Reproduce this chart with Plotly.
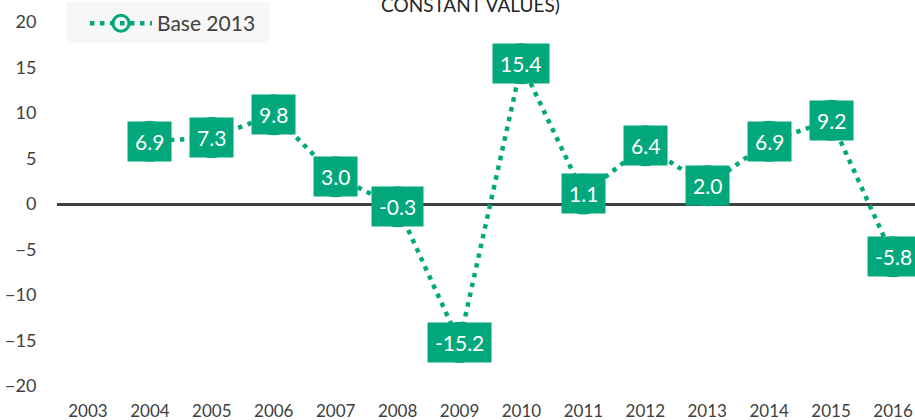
import plotly.graph_objects as go

years = ["2003", "2004", "2005", "2006", "2007", "2008", "2009", "2010",
         "2011", "2012", "2013", "2014", "2015", "2016"]
values = [None, 6.9, 7.3, 9.8, 3.0, -0.3, -15.2, 15.4, 1.1, 6.4, 2.0, 6.9, 9.2, -5.8]
series_name = "Base 2013"
title_text = "CONSTANT VALUES)"

GREEN = "#02A87B"
DARK = "#404040"
FONT = "Lato"

fig = go.Figure()
fig.add_trace(go.Scatter(
    x=years, y=values, mode="lines+markers", name=series_name,
    line=dict(color=GREEN, width=4.5, dash="4.5px,5.5px"),
    marker=dict(symbol="circle", size=38, color="rgba(0,0,0,0)",
                line=dict(color=GREEN, width=3)),
    connectgaps=False,
))

for i, v in enumerate(values):
    if v is None:
        continue
    fig.add_annotation(
        x=i, y=v, xref="x", yref="y", text=f"{v:.1f}", showarrow=False,
        font=dict(family=FONT, size=21, color="white"),
        bgcolor=GREEN, borderpad=7, xanchor="center", yanchor="middle",
    )

fig.add_annotation(
    x=0.4825, y=1.011, xref="paper", yref="paper", text=title_text,
    showarrow=False, xanchor="center", yanchor="bottom",
    font=dict(family=FONT, size=19, color="#262626"),
)

# legend background panel
fig.add_shape(type="rect", xref="paper", yref="paper",
              x0=0.0117, x1=0.2483, y0=0.942, y1=1.055,
              fillcolor="#F7F7F7", line=dict(width=0), layer="below")

fig.update_layout(
    template="none",
    width=915, height=420,
    margin=dict(l=57, r=0, t=22, b=34, pad=0, autoexpand=False),
    paper_bgcolor="white", plot_bgcolor="white",
    font=dict(family=FONT, color=DARK),
    showlegend=True,
    legend=dict(x=0.0326, y=1.052, xanchor="left", yanchor="top",
                bgcolor="rgba(0,0,0,0)", font=dict(family=FONT, size=21, color=DARK),
                itemwidth=62, borderwidth=0),
    xaxis=dict(type="category", range=[-0.5, 13.355], showgrid=False,
               automargin=False,
               showline=False, zeroline=False, ticks="outside", ticklen=10,
               tickcolor="rgba(0,0,0,0)", tickfont=dict(size=17, color=DARK)),
    yaxis=dict(range=[-20, 20], dtick=5, showgrid=False, showline=False,
               automargin=False,
               zeroline=True, zerolinecolor=DARK, zerolinewidth=3,
               ticks="outside", ticklen=16, tickcolor="rgba(0,0,0,0)",
               tickfont=dict(size=18, color=DARK)),
)

fig.write_html("out.html",
               config={"displayModeBar": False},
               post_script="document.body.style.margin='0px';document.body.style.overflow='hidden';")
